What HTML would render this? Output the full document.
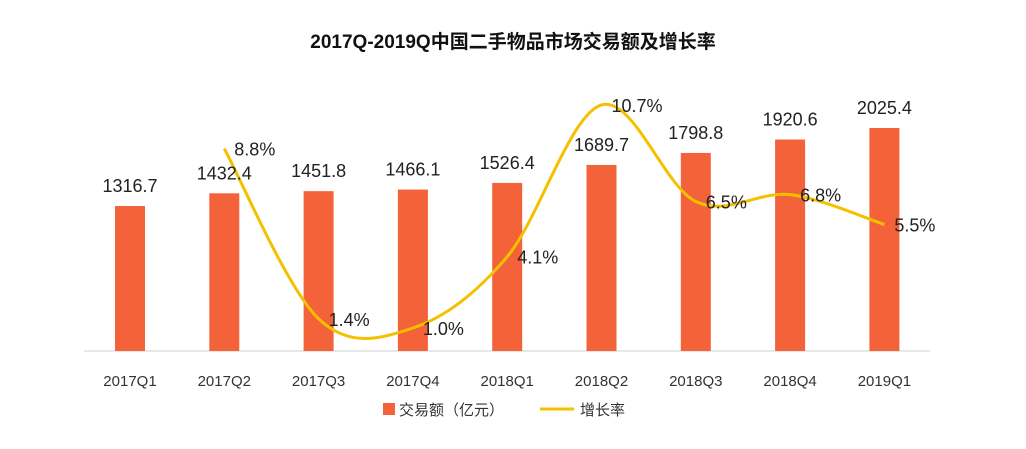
<!DOCTYPE html>
<html><head><meta charset="utf-8"><style>
body{margin:0;background:#fff;}
svg text{font-family:"Liberation Sans","Noto Sans CJK SC",sans-serif;}
</style></head><body>
<svg id="chart" width="1026" height="444" xmlns="http://www.w3.org/2000/svg">
<text x="513" y="48" text-anchor="middle" font-size="19" font-weight="bold" fill="#111">2017Q-2019Q中国二手物品市场交易额及增长率</text>
<line x1="84" y1="351" x2="930" y2="351" stroke="#d0d0d0" stroke-width="1"/>
<g id="bars"></g><path id="line" fill="none" stroke="#F5C000" stroke-width="3"/>
<g id="labels"></g>
<g>
<rect x="383" y="403" width="12" height="12" fill="#F4623A"/>
<text x="399" y="415" font-size="15" fill="#333">交易额（亿元）</text>
<line x1="540" y1="409" x2="574" y2="409" stroke="#F5C000" stroke-width="3"/>
<text x="580" y="415" font-size="15" fill="#333">增长率</text>
</g>
</svg>
<script>
const categories=["2017Q1","2017Q2","2017Q3","2017Q4","2018Q1","2018Q2","2018Q3","2018Q4","2019Q1"];
const volumes=[1316.7,1432.4,1451.8,1466.1,1526.4,1689.7,1798.8,1920.6,2025.4];
const growth=[null,8.8,1.4,1.0,4.1,10.7,6.5,6.8,5.5];
const growthLabels=["","8.8%","1.4%","1.0%","4.1%","10.7%","6.5%","6.8%","5.5%"];
const NS="http://www.w3.org/2000/svg";
const x=i=>130+i*94.3;
const yb=v=>351-v*0.1101;
const yl=v=>351-v*23.0;
const bars=document.getElementById('bars'),labels=document.getElementById('labels');
function mk(t,a,p){const e=document.createElementNS(NS,t);for(const k in a)e.setAttribute(k,a[k]);p.appendChild(e);return e;}
categories.forEach((c,i)=>{
 const r=mk('rect',{x:x(i)-15,y:yb(volumes[i]),width:30,height:351-yb(volumes[i]),fill:'#F4623A'},bars);
 
 
 const t=mk('text',{x:x(i),y:yb(volumes[i])-14,'text-anchor':'middle','font-size':18,fill:'#222'},labels);
 t.textContent=volumes[i].toFixed(1);
 
 
 const l=mk('text',{x:x(i),y:386,'text-anchor':'middle','font-size':15,fill:'#333'},labels);
 l.textContent=c;
 
 
});
const pts=[];growth.forEach((g,i)=>{if(g!==null)pts.push([x(i),yl(g),i]);});
let d='M'+pts[0][0]+','+pts[0][1];
for(let i=0;i<pts.length-1;i++){
 const p0=pts[Math.max(0,i-1)],p1=pts[i],p2=pts[i+1],p3=pts[Math.min(pts.length-1,i+2)];
 const c1x=p1[0]+(p2[0]-p0[0])/6,c1y=p1[1]+(p2[1]-p0[1])/6,c2x=p2[0]-(p3[0]-p1[0])/6,c2y=p2[1]-(p3[1]-p1[1])/6;
 d+=` C${c1x},${c1y} ${c2x},${c2y} ${p2[0]},${p2[1]}`;
}
document.getElementById('line').setAttribute('d',d);
pts.forEach(p=>{
 const t=mk('text',{x:p[0]+10,y:p[1]+7,'font-size':18,fill:'#222'},labels);
 t.textContent=growthLabels[p[2]];
 
 
});
</script>
</body></html>
